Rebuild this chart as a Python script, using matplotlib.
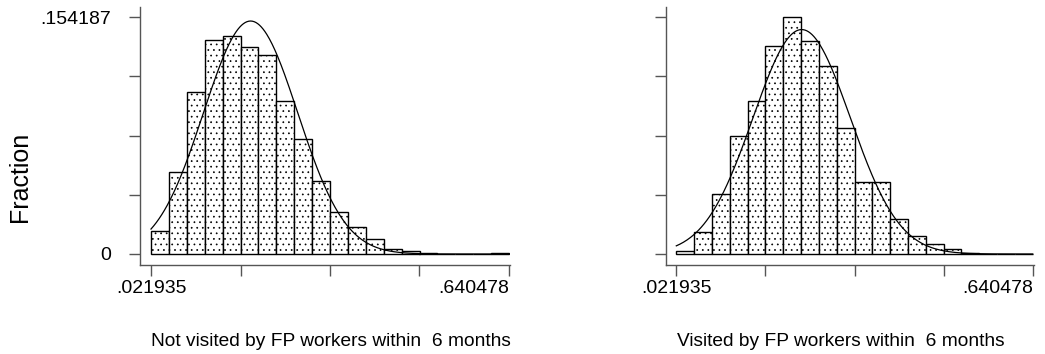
import numpy as np
import matplotlib.pyplot as plt

# ------------------------------- DATA -------------------------------------- #
x_min = 0.021935
x_max = 0.640478
y_top = 0.154187
n_bins = 20

# fraction per bin
frac_not_visited = [0.0149, 0.0531, 0.1055, 0.1395, 0.1416, 0.1347, 0.1297,
                    0.0994, 0.0745, 0.0472, 0.0275, 0.0173, 0.0095, 0.0030,
                    0.0017, 0.0007, 0.0003, 0.0002, 0.0003, 0.0006]
frac_visited = [0.0017, 0.0141, 0.0390, 0.0767, 0.0994, 0.1351, 0.154187,
                0.1388, 0.1221, 0.0821, 0.0466, 0.0466, 0.0227, 0.0115,
                0.0063, 0.0030, 0.0007, 0.0, 0.0, 0.0]

# normal overlay (mean, sd)
norm_not_visited = (0.1940, 0.0814)
norm_visited = (0.2395, 0.0845)

titles = ["Not visited by FP workers within  6 months",
          "Visited by FP workers within  6 months"]

# ------------------------------ STYLE -------------------------------------- #
plt.rcParams["font.family"] = ["Liberation Sans", "DejaVu Sans"]
plt.rcParams["hatch.linewidth"] = 0.5
plt.rcParams["hatch.color"] = "#222222"

W, H = 1045, 354
PT = 72 / 100  # points per pixel at dpi 100
fig = plt.figure(figsize=(W / 100, H / 100), dpi=100)


def px_axes(left, right, top, bottom):
    return fig.add_axes([left / W, 1 - bottom / H, (right - left) / W, (bottom - top) / H])


bw = (x_max - x_min) / n_bins
edges = x_min + bw * np.arange(n_bins + 1)
xs = np.linspace(x_min, x_max, 400)

# pixel layout: (spine x, tick px of x_min, tick px of x_max, title centre)
layout = [(140, 151, 509, 331), (666, 676.3, 1032.7, 841)]
y0_px, ytop_px, spine_y = 254, 17, 265
ys = y_top / (y0_px - ytop_px)

for k, (fracs, (mu, sd), title) in enumerate(zip([frac_not_visited, frac_visited],
                                                 [norm_not_visited, norm_visited], titles)):
    sx, p0, p1, tc = layout[k]
    xs_px = (x_max - x_min) / (p1 - p0)
    ax = px_axes(sx, p1 + 1, 7, spine_y)
    ax.set_xlim(x_min - (p0 - sx) * xs_px, x_max + 1 * xs_px)
    ax.set_ylim(-(spine_y - y0_px) * ys, y_top + (ytop_px - 7) * ys)

    ax.bar(edges[:-1], fracs, width=bw, align="edge", facecolor="white",
           edgecolor="black", linewidth=1.0, hatch="...")
    dens = bw / (sd * np.sqrt(2 * np.pi)) * np.exp(-0.5 * ((xs - mu) / sd) ** 2)
    ax.plot(xs, dens, color="black", linewidth=0.9)

    for s in ["top", "right"]:
        ax.spines[s].set_visible(False)
    for s in ["left", "bottom"]:
        ax.spines[s].set_color("#555555")
        ax.spines[s].set_linewidth(1.0)

    ax.set_xticks(np.linspace(x_min, x_max, 5))
    ax.set_xticklabels([".021935", "", "", "", ""])
    ax.set_yticks(np.linspace(0, y_top, 5))
    if k == 0:
        ax.set_yticklabels(["0", "", "", "", ".154187"])
    else:
        ax.set_yticklabels(["", "", "", "", ""])
    ax.tick_params(axis="both", direction="out", length=11 * PT, width=1.0,
                   color="#555555", labelsize=14)
    ax.tick_params(axis="y", pad=18 * PT)
    ax.tick_params(axis="x", pad=4 * PT)
    ax.text(x_max, -(280 - y0_px) * ys, ".640478", ha="right", va="top",
            fontsize=14)
    fig.text(tc / W, 1 - 342 / H, title, ha="center", va="center", fontsize=13.8)

fig.text(20 / W, 1 - 177 / H, "Fraction", rotation=90, ha="center", va="center",
         fontsize=18)

fig.savefig("out.png", dpi=100)
